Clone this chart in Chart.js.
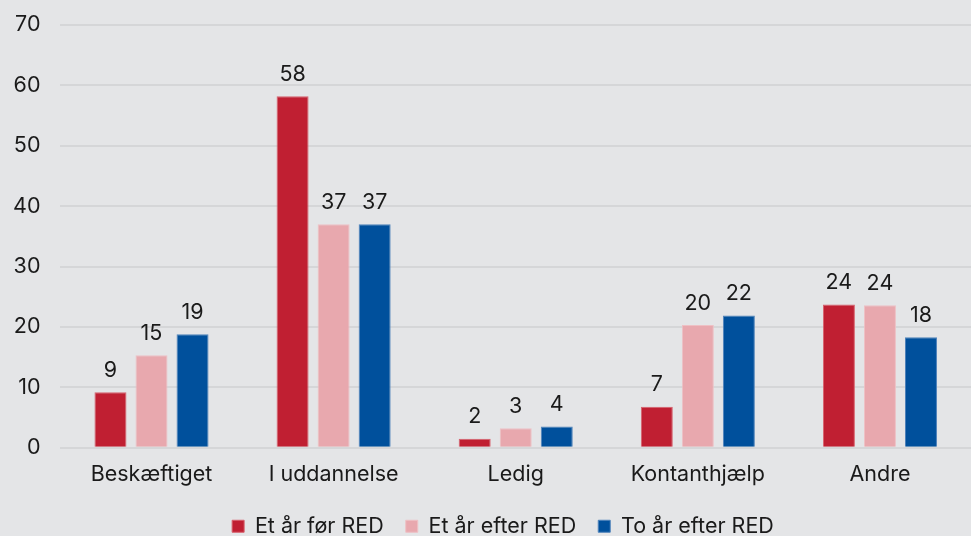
<!DOCTYPE html>
<html>
<head>
<meta charset="utf-8">
<script src="https://cdn.jsdelivr.net/npm/chart.js@4"></script>
<style>
  html, body { margin: 0; padding: 0; background: #e4e5e7; }
  #wrap { width: 971px; height: 536px; }
</style>
</head>
<body>
<div id="wrap"><canvas id="myChart" width="971" height="536"></canvas></div>
<script>
const categories = ['Beskæftiget', 'I uddannelse', 'Ledig', 'Kontanthjælp', 'Andre'];
const etAarFoer = [9.2, 58.2, 1.5, 6.8, 23.7];
const etAarEfter = [15.3, 37.0, 3.2, 20.3, 23.6];
const toAarEfter = [18.8, 37.0, 3.5, 21.9, 18.3];
const yTicks = [0, 10, 20, 30, 40, 50, 60, 70];

const fontFamily = 'Inter, "Noto Sans", sans-serif';
const fontSize = 21.5;

// tal over søjlerne
const valueLabels = {
    id: 'valueLabels',
    afterDatasetsDraw(chart) {
        const c = chart.ctx;
        c.save();
        c.font = fontSize + 'px ' + fontFamily;
        c.fillStyle = '#1a1a1a';
        c.textAlign = 'center';
        c.textBaseline = 'bottom';
        chart.data.datasets.forEach((ds, i) => {
            chart.getDatasetMeta(i).data.forEach((bar, j) => {
                c.fillText(Math.round(ds.data[j]), bar.x, bar.y - 11);
            });
        });
        c.restore();
    }
};

// legenden: mindre højde og flyttet lidt
const tightLegend = {
    id: 'tightLegend',
    beforeInit(chart) {
        const fit = chart.legend.fit;
        chart.legend.fit = function () {
            fit.call(this);
            this.height -= 26;
        };
    },
    afterLayout(chart) {
        const lg = chart.legend;
        lg.top -= 8;
        lg.bottom = chart.height;
        lg.height = lg.bottom - lg.top;
        lg.left += 21;
        lg.right += 21;
    }
};

const ctx = document.getElementById('myChart');

new Chart(ctx, {
    type: 'bar',
    data: {
        labels: categories,
        datasets: [{
            label: 'Et år før RED',
            data: etAarFoer,
            backgroundColor: '#c01f32',
            borderColor: '#d7606c',
            borderWidth: 1
        }, {
            label: 'Et år efter RED',
            data: etAarEfter,
            backgroundColor: '#e8a8ae',
            borderColor: '#eec0c4',
            borderWidth: 1
        }, {
            label: 'To år efter RED',
            data: toAarEfter,
            backgroundColor: '#00509c',
            borderColor: '#4f83bb',
            borderWidth: 1
        }]
    },
    plugins: [valueLabels, tightLegend],
    options: {
        responsive: false,
        animation: false,
        categoryPercentage: 0.676,
        barPercentage: 0.78,
        layout: { padding: { top: 0, right: 0, left: -7, bottom: 7 } },
        plugins: {
            legend: {
                position: 'bottom',
                labels: {
                    boxWidth: 12,
                    boxHeight: 12,
                    padding: 22,
                    color: '#1a1a1a',
                    font: { family: fontFamily, size: fontSize }
                }
            },
            tooltip: { enabled: false }
        },
        scales: {
            x: {
                grid: { display: false, drawTicks: false },
                border: { display: false },
                ticks: { color: '#1a1a1a', padding: 14, font: { family: fontFamily, size: fontSize } }
            },
            y: {
                min: 0,
                max: 70,
                afterBuildTicks(axis) { axis.ticks = yTicks.map(v => ({ value: v })); },
                afterFit(axis) {
                    axis.paddingTop -= 8;
                    axis.paddingBottom -= 8;
                },
                grid: { color: '#d5d6d8', lineWidth: 2, drawTicks: false },
                border: { display: false },
                ticks: { color: '#1a1a1a', padding: 20, font: { family: fontFamily, size: fontSize } }
            }
        }
    }
});
</script>
</body>
</html>
